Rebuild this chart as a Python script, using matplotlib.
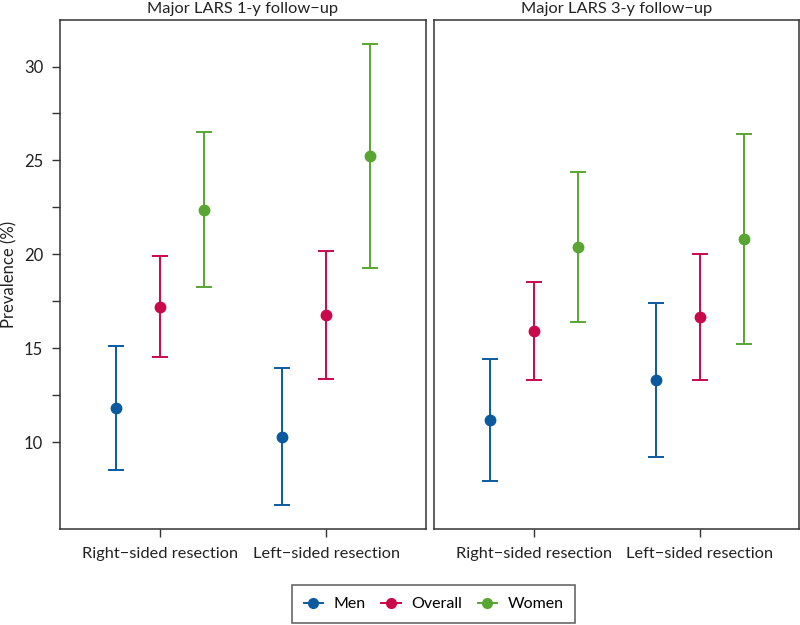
import matplotlib.pyplot as plt
from matplotlib.lines import Line2D
import numpy as np

plt.rcParams['font.family'] = ['Lato', 'DejaVu Sans']

panels = ['Major LARS 1-y follow\u2212up', 'Major LARS 3-y follow\u2212up']
categories = ['Right\u2212sided resection', 'Left\u2212sided resection']
groups = ['Men', 'Overall', 'Women']
colors = ['#0b5a9f', '#c8094a', '#58a532']

# estimate, lower, upper per panel -> group -> category
est_1y = {'Men': [11.83, 10.28], 'Overall': [17.21, 16.77], 'Women': [22.36, 25.25]}
low_1y = {'Men': [8.51, 6.63], 'Overall': [14.51, 13.37], 'Women': [18.24, 19.29]}
up_1y = {'Men': [15.13, 13.94], 'Overall': [19.91, 20.16], 'Women': [26.50, 31.22]}

est_3y = {'Men': [11.19, 13.32], 'Overall': [15.93, 16.66], 'Women': [20.41, 20.82]}
low_3y = {'Men': [7.94, 9.22], 'Overall': [13.30, 13.29], 'Women': [16.38, 15.24]}
up_3y = {'Men': [14.40, 17.42], 'Overall': [18.54, 20.03], 'Women': [24.38, 26.39]}

data = [(est_1y, low_1y, up_1y), (est_3y, low_3y, up_3y)]

fig = plt.figure(figsize=(8, 6.25), dpi=100)
ax1 = fig.add_axes([0.075, 0.154, 0.4575, 0.814])
ax2 = fig.add_axes([0.5425, 0.154, 0.4565, 0.814], sharey=ax1)
axes = [ax1, ax2]

x = np.arange(1, len(categories) + 1)
offsets = [-0.265, 0, 0.265]

for ax, title, (est, low, up) in zip(axes, panels, data):
    for g, c, off in zip(groups, colors, offsets):
        e = np.array(est[g])
        lo = e - np.array(low[g])
        hi = np.array(up[g]) - e
        ax.errorbar(x + off, e, yerr=[lo, hi], fmt='o', color=c, ms=7.5,
                    mec=c, mfc=c, capsize=6, capthick=1.4, elinewidth=1.4)
    ax.set_xlim(0.4, 2.6)
    ax.set_xticks(x)
    ax.set_xticklabels(categories, fontsize=11.8, color='#222222')
    ax.set_title(title, fontsize=11.8, color='#222222', pad=5)
    for s in ax.spines.values():
        s.set_color('#333333')
        s.set_linewidth(1.1)
    ax.tick_params(axis='x', length=6, width=1, color='#333333', pad=7)
    ax.tick_params(axis='y', length=6, width=1, color='#333333')

ax1.set_ylim(5.38, 32.48)
ax1.set_yticks([10, 15, 20, 25, 30])
ax1.set_yticks([12.5, 17.5, 22.5, 27.5], minor=True)
ax1.tick_params(axis='y', which='minor', length=6, width=1, color='#333333')
ax1.tick_params(axis='y', labelsize=12, labelcolor='#222222', pad=6)
ax2.tick_params(axis='y', which='both', left=False, labelleft=False)

# y label placed in figure coords so it stays inside the canvas
fig.text(0.012, 0.154 + 0.814 / 2, 'Prevalence (%)', rotation=90, ha='center',
         va='center', fontsize=12, color='#222222')

handles = [Line2D([0], [0], color=c, marker='o', ms=7, lw=1.4) for c in colors]
leg = fig.legend(handles, groups, loc='lower center', bbox_to_anchor=(0.542, 0.0),
                 ncol=3, frameon=True, fancybox=False, fontsize=11.5,
                 handlelength=1.2, columnspacing=1.0, handletextpad=0.65,
                 borderpad=0.75, borderaxespad=0.1)
leg.get_frame().set_edgecolor('#333333')
leg.get_frame().set_linewidth(1.1)

fig.savefig('out.png', dpi=100)
